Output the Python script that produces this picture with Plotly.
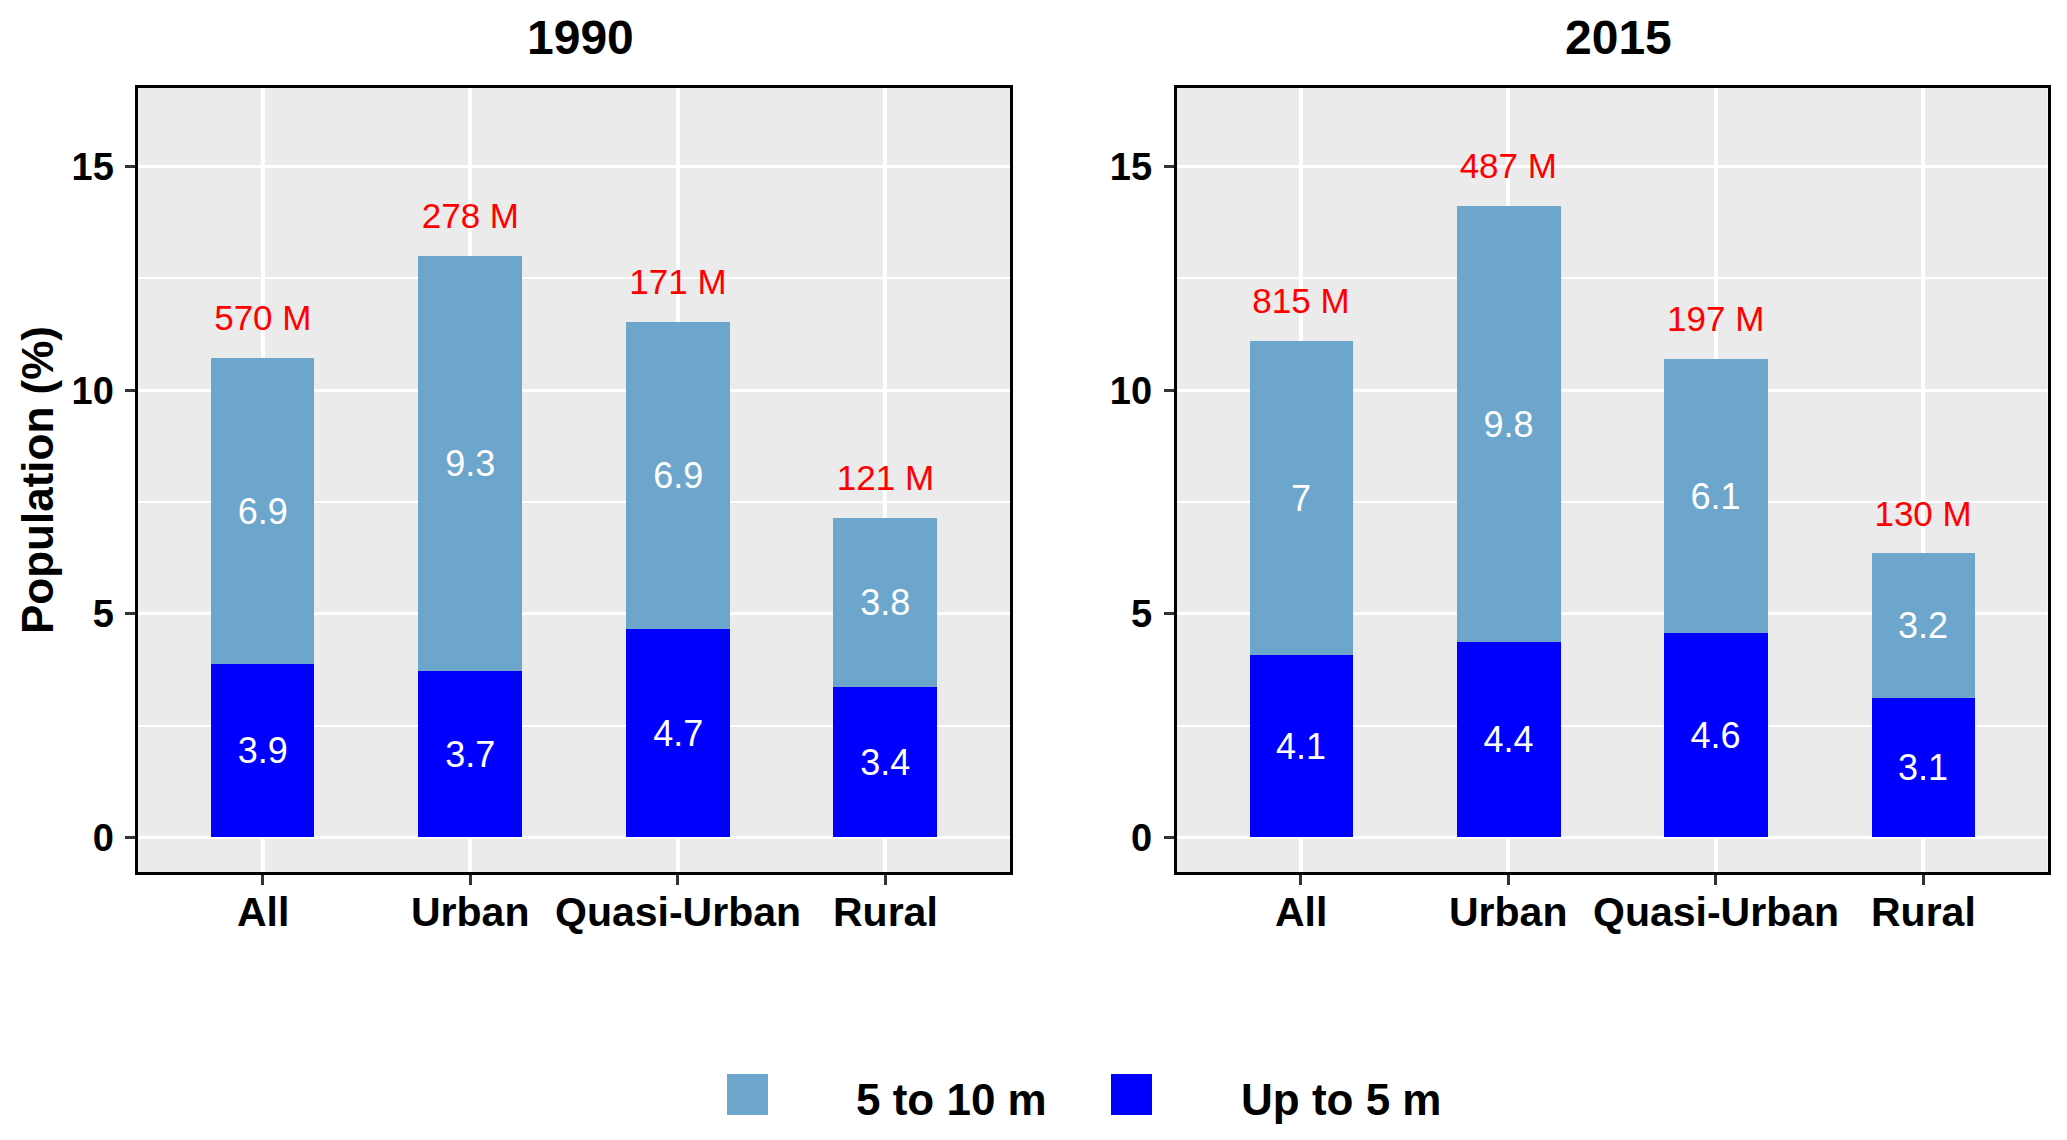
import plotly.graph_objects as go

categories = ["All", "Urban", "Quasi-Urban", "Rural"]
years = ["1990", "2015"]
up_to_5m_1990 = [3.87, 3.72, 4.66, 3.36]
m5_to_10m_1990 = [6.86, 9.29, 6.87, 3.78]
up_to_5m_2015 = [4.08, 4.36, 4.57, 3.12]
m5_to_10m_2015 = [7.02, 9.77, 6.13, 3.23]
pop_1990 = ["570 M", "278 M", "171 M", "121 M"]
pop_2015 = ["815 M", "487 M", "197 M", "130 M"]
y_ticks = [0, 5, 10, 15]
legend_labels = ["5 to 10 m", "Up to 5 m"]

PAGE_W, PAGE_H = 2067, 1140
OFF = 8  # default body margin of the page
W, H = PAGE_W - 2 * OFF, PAGE_H - 2 * OFF
FONT = "Liberation Sans, Arial, sans-serif"
LIGHT = "#6CA6CD"
DARK = "#0000FF"


def fx(x):
    return (x - OFF) / W


def fy(y):
    return 1 - (y - OFF) / H


def fmt(v):
    return f"{round(v, 1):g}"


panels = [
    (years[0], up_to_5m_1990, m5_to_10m_1990, pop_1990, (138.3, 1010)),
    (years[1], up_to_5m_2015, m5_to_10m_2015, pop_2015, (1176.5, 2047.5)),
]
y_top, y_bot = 88, 872.3

fig = go.Figure()
annotations = []
layout_axes = {}
for i, (yr, low, up, pop, (x0, x1)) in enumerate(panels):
    xa = "x" if i == 0 else f"x{i+1}"
    ya = "y" if i == 0 else f"y{i+1}"
    for vals, col in ((low, DARK), (up, LIGHT)):
        fig.add_trace(go.Bar(
            x=categories, y=vals, xaxis=xa, yaxis=ya, width=0.5,
            marker=dict(color=col, line=dict(width=0)),
            text=[fmt(v) for v in vals], textposition="inside",
            insidetextanchor="middle", constraintext="none",
            textfont=dict(color="white", size=36, family=FONT),
            showlegend=False, hoverinfo="skip"))
    totals = [a + b for a, b in zip(low, up)]
    fig.add_trace(go.Scatter(
        x=categories, y=[t + 0.82 for t in totals], xaxis=xa, yaxis=ya,
        mode="text", text=pop,
        textfont=dict(color="#FF0000", size=35, family=FONT),
        showlegend=False, hoverinfo="skip"))
    xkey = "xaxis" if i == 0 else f"xaxis{i+1}"
    ykey = "yaxis" if i == 0 else f"yaxis{i+1}"
    layout_axes[xkey] = dict(
        domain=[fx(x0), fx(x1)], anchor=ya, type="category",
        categoryorder="array", categoryarray=categories,
        range=[-0.6, 3.6], showgrid=True, gridcolor="white", gridwidth=3.5,
        ticks="outside", ticklen=10, tickwidth=2.6, tickcolor="#333333",
        showticklabels=False,
        showline=True, mirror=True, linecolor="black", linewidth=2.7,
        zeroline=False, fixedrange=True)
    layout_axes[ykey] = dict(
        domain=[fy(y_bot), fy(y_top)], anchor=xa,
        range=[-0.78, 16.76], tickvals=y_ticks,
        showgrid=True, gridcolor="white", gridwidth=3.3,
        minor=dict(tickvals=[2.5, 7.5, 12.5], showgrid=True,
                   gridcolor="white", gridwidth=1.7, ticks=""),
        ticks="outside", ticklen=10, tickwidth=2.6, tickcolor="#333333",
        ticklabelstandoff=4,
        tickfont=dict(size=38, family=FONT, color="black", weight="bold"),
        showline=True, mirror=True, linecolor="black", linewidth=2.7,
        zeroline=False, fixedrange=True)
    for c in categories:
        annotations.append(dict(
            x=c, xref=xa, y=fy(912), yref="paper", text=f"<b>{c}</b>",
            showarrow=False, xanchor="center", yanchor="middle",
            font=dict(size=41, family=FONT, color="black")))
    annotations.append(dict(
        x=fx((x0 + x1) / 2 + 6), y=fy(38), xref="paper", yref="paper",
        text=f"<b>{yr}</b>", showarrow=False, xanchor="center",
        yanchor="middle", font=dict(size=48, family=FONT, color="black")))

annotations.append(dict(
    x=fx(37), y=fy(480), xref="paper", yref="paper", textangle=-90,
    text="<b>Population (%)</b>", showarrow=False, xanchor="center",
    yanchor="middle", font=dict(size=44, family=FONT, color="black")))

legend_items = [(legend_labels[0], LIGHT, 727, 854),
                (legend_labels[1], DARK, 1111, 1239)]
shapes = []
for label, col, kx, tx in legend_items:
    shapes.append(dict(type="rect", xref="paper", yref="paper",
                       x0=fx(kx), x1=fx(kx + 41), y0=fy(1115), y1=fy(1074),
                       fillcolor=col, line=dict(width=0)))
    annotations.append(dict(
        x=fx(tx), y=fy(1099), xref="paper", yref="paper",
        text=f"<b>{label}</b>",
        showarrow=False, xanchor="left", yanchor="middle",
        font=dict(size=44, family=FONT, color="black")))

fig.update_layout(
    width=W, height=H, margin=dict(l=0, r=0, t=0, b=0),
    paper_bgcolor="white", plot_bgcolor="#EBEBEB",
    barmode="stack", bargap=0, showlegend=False,
    font=dict(family=FONT), annotations=annotations, shapes=shapes,
    **layout_axes)

fig.write_html("out.html")
